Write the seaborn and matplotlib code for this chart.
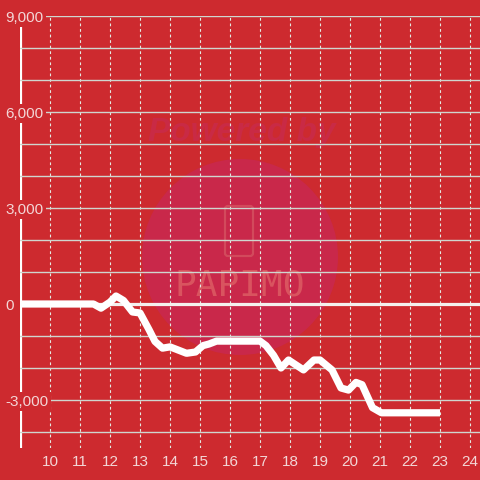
import matplotlib
matplotlib.use("Agg")
import matplotlib.pyplot as plt
import seaborn as sns
import pandas as pd
from matplotlib.patches import Circle, FancyBboxPatch

# ---- data ----
hours = [9.0, 11.45, 11.7, 12.0, 12.2, 12.45, 12.75, 13.0, 13.3, 13.5, 13.75, 14.0,
         14.25, 14.55, 14.85, 15.1, 15.3, 15.55, 17.0, 17.2, 17.45, 17.7, 17.95,
         18.45, 18.8, 19.0, 19.4, 19.7, 19.95, 20.2, 20.4, 20.75, 21.05, 21.3, 23.0]
values = [0, 0, -130, 60, 250, 110, -250, -280, -800, -1170, -1380, -1340,
          -1430, -1540, -1500, -1300, -1250, -1160, -1160, -1300, -1600, -2000, -1750,
          -2060, -1750, -1750, -2060, -2625, -2690, -2450, -2520, -3240, -3400, -3400, -3400]
y_major = [-3000, 0, 3000, 6000, 9000]
y_labels = ["-3,000", "0", "3,000", "6,000", "9,000"]
y_minor = [-4000, -2000, -1000, 1000, 2000, 4000, 5000, 7000, 8000]
x_ticks = list(range(10, 25))

df = pd.DataFrame({"hour": hours, "value": values})

RED = "#cd2a2f"
GRID = "#cfd6cf"
LABEL = "#f3d6d6"

sns.set_theme(style="white")
plt.rcParams["font.family"] = ["Liberation Sans", "DejaVu Sans"]

fig = plt.figure(figsize=(4.8, 4.8), dpi=100, facecolor=RED)
ax = fig.add_axes([20 / 480, 32 / 480, 460 / 480, 432 / 480])
ax.set_facecolor(RED)
ax.set_axisbelow(True)

# watermark
ax.add_patch(Circle((0.5, 1 - 257 / 480), 98 / 480, transform=fig.transFigure,
                    facecolor="#c9284a", edgecolor="none", zorder=0.2))
ax.add_patch(FancyBboxPatch((225 / 480, 1 - 256 / 480), 28 / 480, 50 / 480,
                            boxstyle="round,pad=0,rounding_size=0.006",
                            transform=fig.transFigure, facecolor="none",
                            edgecolor="#d24a5c", lw=1.6, zorder=0.25))
ax.text(242 / 480, 1 - 133 / 480, "Powered by", transform=fig.transFigure,
        ha="center", va="center", fontsize=24, fontweight="bold", fontstyle="italic",
        color="#c92a45", zorder=0.25)
ax.text(240 / 480, 1 - 286 / 480, "PAPIMO", transform=fig.transFigure,
        ha="center", va="center", fontsize=26, family="DejaVu Sans Mono",
        fontweight="light", color="#d9545f", zorder=0.25)

# left spine and zero line
ax.axvline(9, color="white", lw=2.3, zorder=0.4)
ax.axhline(0, color="#f4f0ee", lw=2.3, zorder=0.6)

sns.lineplot(data=df, x="hour", y="value", ax=ax, color="white", lw=5.2,
             solid_joinstyle="round", solid_capstyle="butt", zorder=3)

ax.set_xlim(9, 9 + 460 / 30)
ax.set_ylim(-4500, 9000)
ax.set_xticks(x_ticks)
ax.set_xticklabels([str(t) for t in x_ticks])
ax.set_yticks(y_major)
ax.set_yticks(y_minor, minor=True)
ax.set_yticklabels(y_labels)

ax.grid(True, axis="y", which="both", color=GRID, lw=1.0)
ax.grid(True, axis="x", which="major", color="#e4ebe4", lw=0.8, ls=(0, (2.5, 2.5)))

for s in ax.spines.values():
    s.set_visible(False)

ax.tick_params(axis="x", length=0, pad=5, labelsize=11, labelcolor=LABEL)
ax.tick_params(axis="y", which="both", length=0, pad=10.5, labelsize=11, labelcolor=LABEL)
for t in ax.get_yticklabels():
    t.set_horizontalalignment("left")
    t.set_bbox(dict(facecolor=RED, edgecolor="none", pad=1.5))

ax.set_xlabel("")
ax.set_ylabel("")

fig.savefig("out.png", dpi=100, facecolor=RED)
